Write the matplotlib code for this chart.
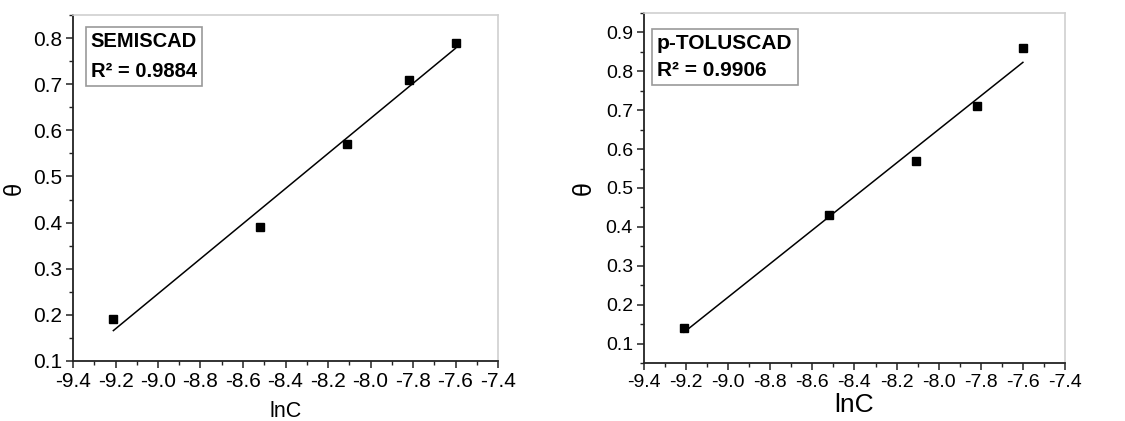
import matplotlib.pyplot as plt
import numpy as np
from matplotlib.ticker import MultipleLocator

lnc = [-9.21, -8.52, -8.11, -7.82, -7.60]
theta_semi = [0.19, 0.39, 0.57, 0.71, 0.79]
theta_tolu = [0.14, 0.43, 0.57, 0.71, 0.86]

names = ["SEMISCAD", "p-TOLUSCAD"]
r2_values = ["0.9884", "0.9906"]
x_ticks = [-9.4, -9.2, -9.0, -8.8, -8.6, -8.4, -8.2, -8.0, -7.8, -7.6, -7.4]
y_ticks_semi = [0.1, 0.2, 0.3, 0.4, 0.5, 0.6, 0.7, 0.8]
y_ticks_tolu = [0.1, 0.2, 0.3, 0.4, 0.5, 0.6, 0.7, 0.8, 0.9]

plt.rcParams.update({
    "font.family": ["Liberation Sans", "DejaVu Sans"],
})

fig = plt.figure(figsize=(11.25, 4.21), dpi=100)
W, H = 1125, 421
ax1 = fig.add_axes([73 / W, 1 - 361 / H, (498 - 73) / W, (361 - 15) / H])
ax2 = fig.add_axes([644 / W, 1 - 363 / H, (1065 - 644) / W, (363 - 13) / H])

panels = [
    # ax, y, yticks, ylim, tick fs, xlabel fs, xlabel pad, ylabel fs, ylabel pad, box fs, spacing, box pos
    (ax1, theta_semi, y_ticks_semi, (0.1, 0.85), 15, 15.5, 7, 17, 5, 14.5, 1.75, (0.042, 0.951)),
    (ax2, theta_tolu, y_ticks_tolu, (0.05, 0.95), 14, 19, 1, 18, 7, 15, 1.55, (0.031, 0.94)),
]

for i, (ax, y, yt, ylim, tick_fs, xl_fs, xl_pad, yl_fs, yl_pad, box_fs, lsp, box_pos) in enumerate(panels):
    x = np.array(lnc)
    slope, intercept = np.polyfit(x, y, 1)
    xs = np.array([x.min(), x.max()])
    ax.plot(xs, slope * xs + intercept, color="black", linewidth=1.1)
    ax.plot(x, y, linestyle="none", marker="s", markersize=6, color="black")

    ax.set_xlim(-9.4, -7.4)
    ax.set_ylim(*ylim)
    ax.set_xticks(x_ticks)
    ax.set_xticklabels([f"{v:.1f}" for v in x_ticks])
    ax.set_yticks(yt)
    ax.set_yticklabels([f"{v:.1f}" for v in yt])
    ax.xaxis.set_minor_locator(MultipleLocator(0.1))
    ax.yaxis.set_minor_locator(MultipleLocator(0.05))
    ax.tick_params(which="major", direction="out", length=5, width=1.1,
                   labelsize=tick_fs, color="#222222", pad=3)
    ax.tick_params(which="minor", direction="out", length=3, width=1.0, color="#222222")

    for side in ["left", "bottom"]:
        ax.spines[side].set_color("#222222")
        ax.spines[side].set_linewidth(1.3)
    for side in ["top", "right"]:
        ax.spines[side].set_color("#d0d0d0")
        ax.spines[side].set_linewidth(1.2)

    ax.set_xlabel("lnC", fontsize=xl_fs, labelpad=xl_pad)
    ax.set_ylabel("θ", fontsize=yl_fs, labelpad=yl_pad)

    ax.text(box_pos[0], box_pos[1], f"{names[i]}\nR² = {r2_values[i]}",
            transform=ax.transAxes, ha="left", va="top",
            fontsize=box_fs, fontweight="bold", linespacing=lsp,
            bbox=dict(boxstyle="square,pad=0.25", facecolor="white",
                      edgecolor="#999999", linewidth=1.2))

fig.savefig("out.png", dpi=100)
